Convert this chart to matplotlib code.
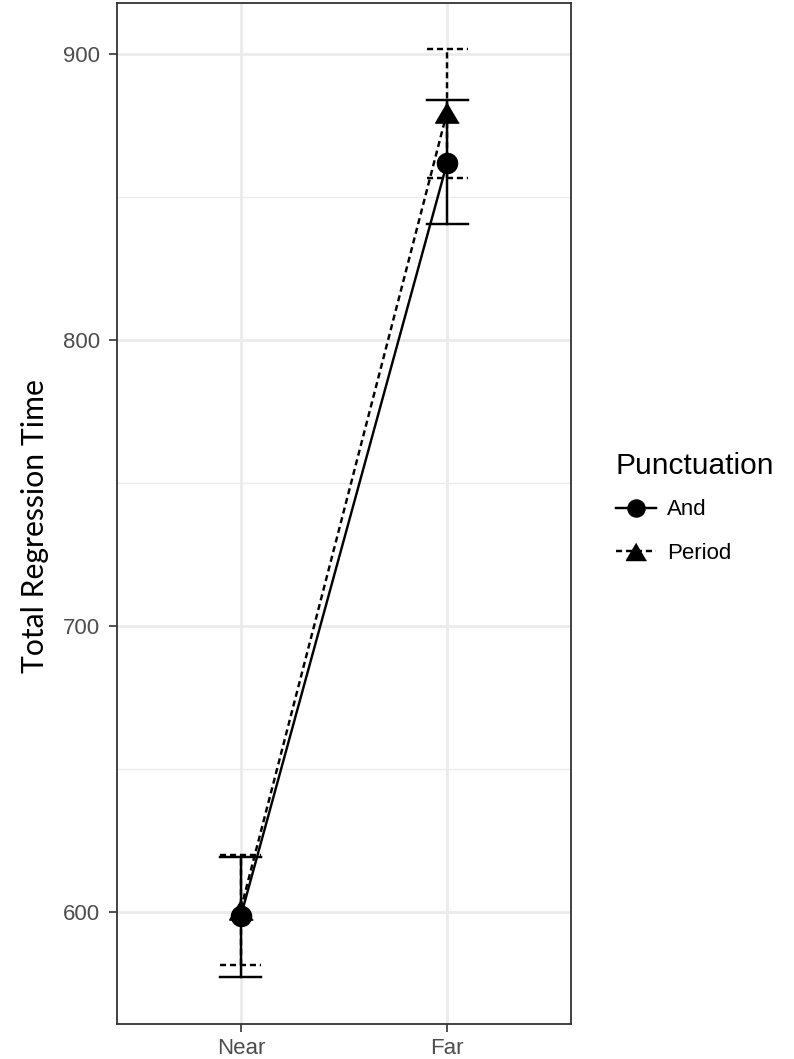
import matplotlib
matplotlib.use("Agg")
import matplotlib.pyplot as plt
from matplotlib.lines import Line2D
import numpy as np

conditions = ["Near", "Far"]
groups = ["And", "Period"]
means = {"And": [598.5, 862.0], "Period": [601.0, 879.8]}
lower = {"And": [577.3, 840.6], "Period": [581.5, 856.6]}
upper = {"And": [619.2, 883.9], "Period": [619.8, 901.8]}

DASH = (0, (2.5, 1.6))
tri = [(0, 0.8), (-1.0, -0.9), (1.0, -0.9)]
styles = {"And": ("-", "o", 14.5), "Period": (DASH, tri, 17)}

plt.rcParams["font.family"] = ["Liberation Sans", "DejaVu Sans"]

fig = plt.figure(figsize=(7.94, 10.59), dpi=100)
ax = fig.add_axes([117/794, 1-1024/1059, (571-117)/794, (1024-3)/1059])

x = np.arange(1, len(conditions)+1)
ax.set_xlim(0.4, 2.6)
ax.set_ylim(560.8, 917.8)

# grid
for yv in [650, 750, 850]:
    ax.axhline(yv, color="#EBEBEB", lw=1.0, zorder=0)
for yv in [600, 700, 800, 900]:
    ax.axhline(yv, color="#EBEBEB", lw=2.0, zorder=0)
for xv in x:
    ax.axvline(xv, color="#EBEBEB", lw=2.0, zorder=0)

cap = 0.1
LW = 1.75
for g in groups:
    ls, mk, ms = styles[g]
    ax.plot(x, means[g], color="black", lw=LW, linestyle=ls, zorder=3)
    for xi, lo, hi in zip(x, lower[g], upper[g]):
        ax.plot([xi, xi], [lo, hi], color="black", lw=LW, linestyle=ls, zorder=3)
        ax.plot([xi-cap, xi+cap], [lo, lo], color="black", lw=LW, linestyle=ls, zorder=3)
        ax.plot([xi-cap, xi+cap], [hi, hi], color="black", lw=LW, linestyle=ls, zorder=3)
for g in groups:
    ls, mk, ms = styles[g]
    ax.plot(x, means[g], linestyle="none", marker=mk, color="black", markersize=ms, zorder=4)

ax.set_xticks(x)
ax.set_xticklabels(conditions)
ax.set_yticks([600, 700, 800, 900])
ax.tick_params(axis="both", direction="out", length=6, width=1.2, color="#333333",
               labelcolor="#4D4D4D", labelsize=16, pad=4)
ax.tick_params(axis="y", pad=6)
for s in ax.spines.values():
    s.set_color("#333333")
    s.set_linewidth(1.3)

ax.set_ylabel("Total Regression Time", fontsize=21.7,
              family=["Liberation Sans Narrow", "Lato", "DejaVu Sans"])
ax.yaxis.set_label_coords((49-117)/454, (1024-526)/1021)

handles = [Line2D([0], [0], color="black", lw=LW, linestyle=styles[g][0], marker=styles[g][1],
                  markersize=styles[g][2]*0.85) for g in groups]
leg = fig.legend(handles, groups, title="Punctuation", loc="upper left",
                 bbox_to_anchor=(596/794, 1-432/1059),
                 frameon=False, fontsize=16, title_fontsize=21.5, handlelength=1.8, labelspacing=1.0,
                 handletextpad=0.5)
leg._legend_box.align = "left"
leg._legend_box.sep = 14

fig.savefig("out.png", dpi=100)
